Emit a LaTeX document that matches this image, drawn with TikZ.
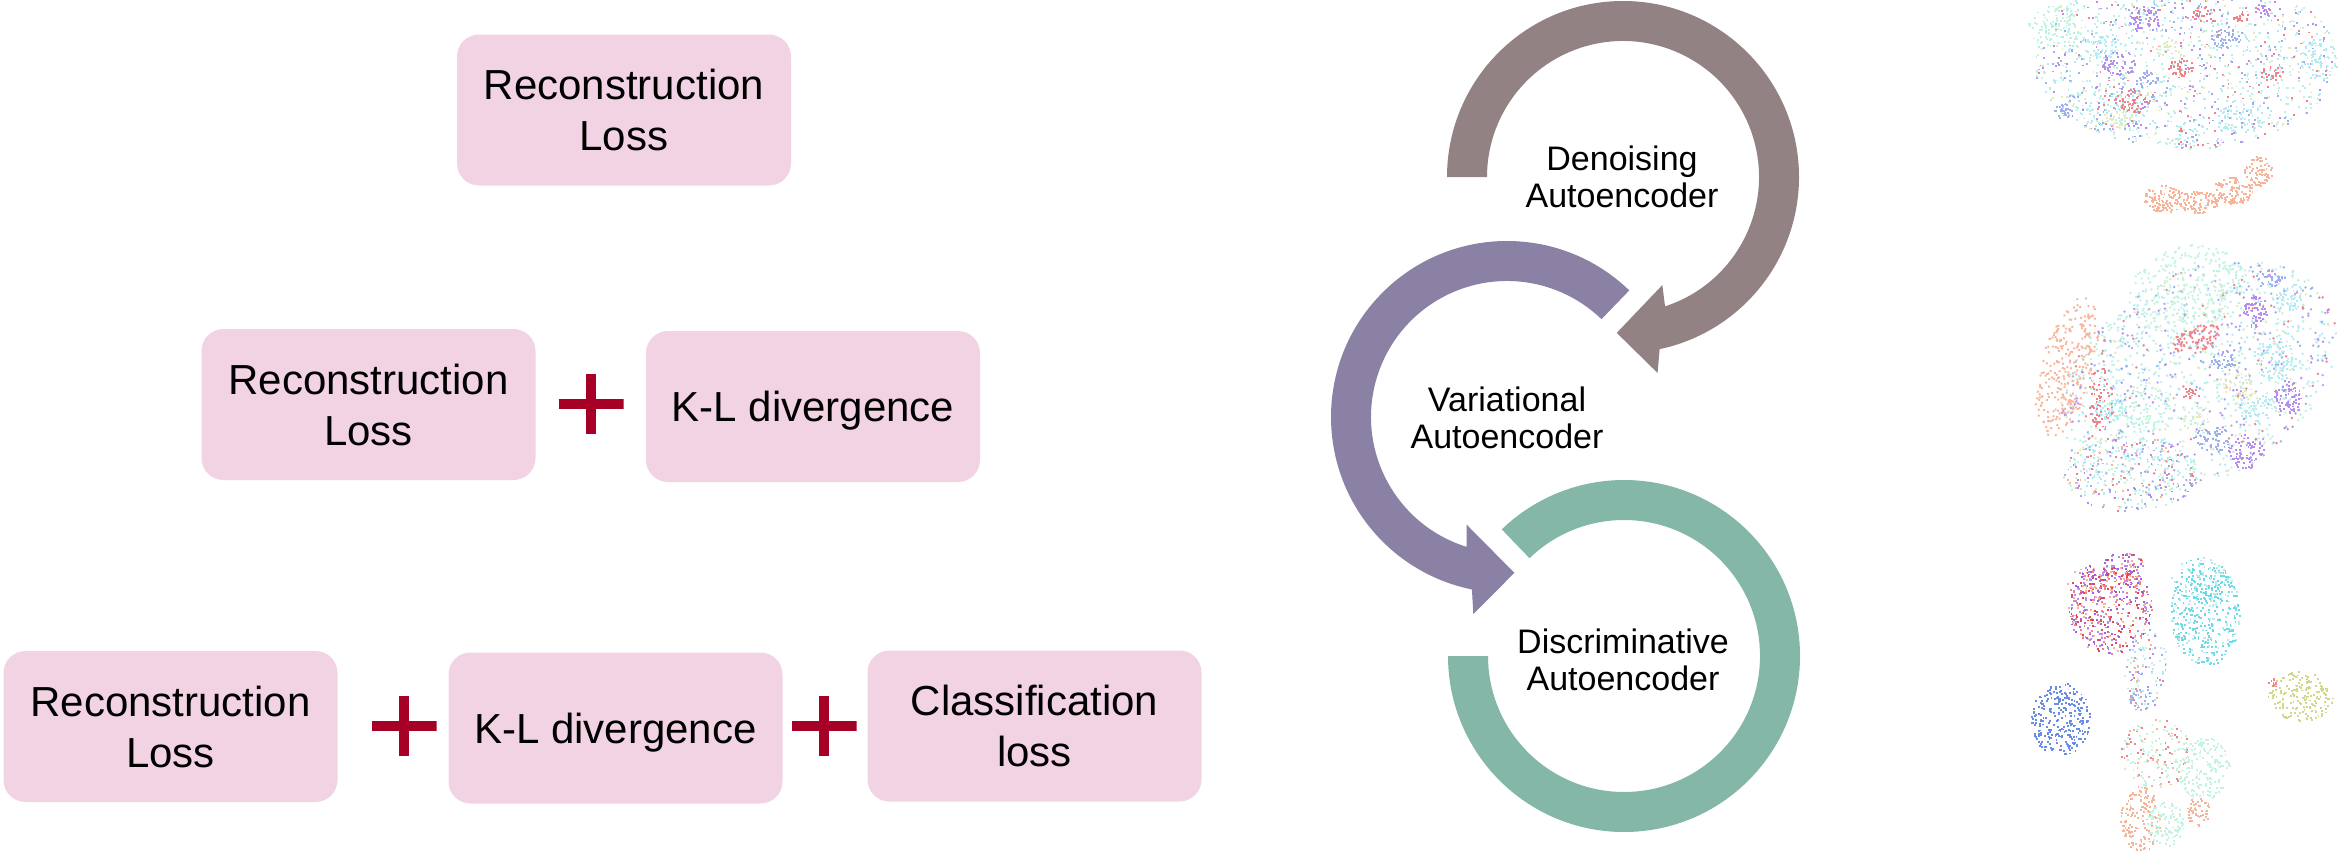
\documentclass[tikz,border=0pt]{standalone}
\usepackage{fontspec}
\setmainfont{Liberation Sans}
\usetikzlibrary{calc}

% panel colours
\definecolor{boxpink}{RGB}{242,211,228}
\definecolor{plusred}{RGB}{166,0,38}
\definecolor{ringgrey}{RGB}{147,130,131}
\definecolor{ringpurple}{RGB}{138,129,165}
\definecolor{ringgreen}{RGB}{132,183,167}

% embedding point colours
\definecolor{dcyan}{RGB}{178,236,242}
\definecolor{dcyanb}{RGB}{110,218,228}
\definecolor{dmint}{RGB}{195,244,226}
\definecolor{dpurple}{RGB}{182,140,240}
\definecolor{dred}{RGB}{240,130,138}
\definecolor{dblue}{RGB}{160,175,238}
\definecolor{dblueb}{RGB}{105,140,228}
\definecolor{dorange}{RGB}{246,180,152}
\definecolor{dyellow}{RGB}{230,234,190}
\definecolor{dyellowb}{RGB}{210,215,140}
\definecolor{dredb}{RGB}{228,70,85}
\definecolor{dpurpleb}{RGB}{160,95,232}

\pgfmathdeclarerandomlist{Lmix}{{dcyan}{dmint}{dpurple}{dred}{dblue}{dyellow}{dcyan}{dmint}{dcyan}{dblue}{dmint}{dcyan}}
\pgfmathdeclarerandomlist{Lmixb}{{dcyan}{dmint}{dred}{dblue}{dorange}{dcyan}{dmint}{dpurple}}
\pgfmathdeclarerandomlist{Lcyan}{{dcyan}}
\pgfmathdeclarerandomlist{Lcyanb}{{dcyanb}{dcyanb}{dcyan}}
\pgfmathdeclarerandomlist{Lmint}{{dmint}}
\pgfmathdeclarerandomlist{Lpurple}{{dpurple}}
\pgfmathdeclarerandomlist{Lred}{{dred}}
\pgfmathdeclarerandomlist{Lblue}{{dblue}}
\pgfmathdeclarerandomlist{Lblueb}{{dblueb}}
\pgfmathdeclarerandomlist{Lorange}{{dorange}}
\pgfmathdeclarerandomlist{Lyellow}{{dyellow}}
\pgfmathdeclarerandomlist{Lyellowb}{{dyellowb}}
\pgfmathdeclarerandomlist{Lredpurple}{{dredb}{dpurpleb}{dred}{dpurple}{dorange}}
\pgfmathdeclarerandomlist{Lredmint}{{dred}{dmint}{dorange}{dmint}}

% a cloud of points: centre x, centre y (downwards), radius x, radius y, rotation, count, colour list
\newcommand\blob[7]{%
  \begin{scope}[shift={(#1,-#2)}, rotate=#5]
    \foreach \k in {1,...,#6}{%
      \pgfmathsetmacro\rr{sqrt(rnd)}%
      \pgfmathsetmacro\aa{360*rnd}%
      \pgfmathrandomitem\cc{#7}%
      \fill[\cc] ({#3*\rr*cos(\aa)},{#4*\rr*sin(\aa)}) rectangle ++(1.9,1.9);
    }
  \end{scope}}

\tikzset{
  lossbox/.style={fill=boxpink, rounded corners=22pt, minimum width=334pt,
    minimum height=151pt, inner sep=0pt, align=center,
    font=\fontsize{42}{51}\selectfont},
  oneline/.style={text depth=0pt},
  ringtext/.style={align=center, font=\fontsize{34}{37}\selectfont},
  plussign/.style={minimum width=65pt, minimum height=60pt, inner sep=0pt,
    path picture={\draw[plusred, line width=9.5pt]
      (path picture bounding box.west) -- (path picture bounding box.east)
      (path picture bounding box.north) -- (path picture bounding box.south);}},
}

\begin{document}
\begin{tikzpicture}[x=1pt,y=1pt]
\useasboundingbox (0,0) rectangle (2346,-857);
\fill[white] (0,0) rectangle (2346,-857);
\clip (0,0) rectangle (2346,-857);

% ---------------- loss terms ----------------
\node[lossbox] (r1) at (624,-110) {Reconstruction\\Loss};

\node[lossbox] (r2a) at (368.5,-404.5) {Reconstruction\\Loss};
\node[plussign] (p1) at (591,-404) {};
\node[lossbox, oneline] (r2b) at (813,-406.5) {K-L divergence};

\node[lossbox] (r3a) at (170.5,-726.5) {Reconstruction\\Loss};
\node[plussign] (p2) at (404,-726) {};
\node[lossbox, oneline] (r3b) at (615.5,-728) {K-L divergence};
\node[plussign] (p3) at (824,-726) {};
\node[lossbox] (r3c) at (1034.5,-726) {Classification\\loss};

% ---------------- circular arrows ----------------
\coordinate (c1) at (1623,-177);
\coordinate (c2) at (1507,-417);
\coordinate (c3) at (1624,-656);

\fill[ringgrey] ($(c1)+(180:176)$) arc[start angle=180, end angle=-78, radius=176]
  -- ($(c1)+(-80:199)$) -- ($(c1)+(-92.3:156)$) -- ($(c1)+(-70:115)$)
  -- ($(c1)+(-72:136)$) arc[start angle=-72, end angle=180, radius=136] -- cycle;

\fill[ringpurple] ($(c2)+(46:176)$) arc[start angle=46, end angle=258.5, radius=176]
  -- ($(c2)+(260.3:200)$) -- ($(c2)+(272.7:156)$) -- ($(c2)+(249.5:115)$)
  -- ($(c2)+(252.7:136)$) arc[start angle=252.7, end angle=46, radius=136] -- cycle;

\fill[ringgreen] ($(c3)+(180:176)$) arc[start angle=180, end angle=494, radius=176]
  -- ($(c3)+(134:136)$) arc[start angle=494, end angle=180, radius=136] -- cycle;

\node[ringtext] (dae) at (1622,-177) {Denoising\\Autoencoder};
\node[ringtext] (vae) at (1507,-418) {Variational\\Autoencoder};
\node[ringtext] (disc) at (1623,-660) {Discriminative\\Autoencoder};

% ---------------- embeddings ----------------
\pgfmathsetseed{271}
% top embedding
\blob{2185}{62}{152}{88}{0}{1300}{Lmix}
\blob{2110}{110}{50}{25}{0}{150}{Lmix}
\blob{2055}{28}{28}{22}{0}{100}{Lmint}
\blob{2145}{20}{16}{14}{0}{60}{Lpurple}
\blob{2118}{65}{18}{12}{0}{50}{Lpurple}
\blob{2262}{12}{8}{6}{0}{18}{Lpurple}
\blob{2180}{68}{12}{10}{0}{45}{Lred}
\blob{2130}{103}{18}{12}{0}{55}{Lred}
\blob{2203}{15}{12}{8}{0}{30}{Lred}
\blob{2240}{18}{8}{6}{0}{18}{Lred}
\blob{2272}{75}{12}{8}{0}{25}{Lred}
\blob{2225}{40}{15}{10}{0}{45}{Lblue}
\blob{2062}{112}{10}{8}{0}{30}{Lblue}
\blob{2145}{80}{12}{8}{0}{25}{Lblue}
\blob{2100}{45}{20}{15}{0}{60}{Lcyan}
\blob{2240}{120}{25}{15}{0}{60}{Lcyan}
\blob{2315}{60}{15}{20}{0}{50}{Lcyan}
\blob{2115}{120}{15}{10}{0}{30}{Lyellow}
\blob{2170}{50}{15}{10}{0}{25}{Lyellow}
\blob{2185}{140}{15}{12}{0}{35}{Lmix}
\blob{2163}{200}{20}{14}{0}{105}{Lorange}
\blob{2198}{203}{20}{11}{0}{95}{Lorange}
\blob{2232}{192}{20}{14}{0}{105}{Lorange}
\blob{2258}{172}{14}{16}{0}{70}{Lorange}

% middle embedding
\blob{2198}{378}{150}{102}{32}{1300}{Lmix}
\blob{2185}{290}{60}{42}{20}{280}{Lmint}
\blob{2145}{410}{30}{25}{0}{100}{Lmint}
\blob{2066}{368}{26}{72}{-15}{280}{Lorange}
\blob{2255}{313}{12}{16}{0}{65}{Lpurple}
\blob{2287}{398}{15}{16}{0}{65}{Lpurple}
\blob{2245}{452}{18}{18}{0}{80}{Lpurple}
\blob{2195}{340}{25}{14}{25}{85}{Lred}
\blob{2100}{400}{12}{32}{0}{75}{Lred}
\blob{2190}{395}{8}{8}{0}{18}{Lred}
\blob{2225}{362}{14}{10}{0}{45}{Lblue}
\blob{2212}{440}{20}{12}{0}{55}{Lblue}
\blob{2270}{280}{15}{10}{0}{40}{Lblue}
\blob{2275}{360}{22}{22}{0}{85}{Lcyan}
\blob{2255}{408}{20}{14}{0}{55}{Lcyan}
\blob{2108}{410}{14}{14}{0}{45}{Lcyan}
\blob{2290}{300}{15}{15}{0}{45}{Lcyan}
\blob{2240}{385}{18}{15}{0}{40}{Lyellow}
\blob{2195}{420}{15}{12}{0}{25}{Lyellow}
\blob{2130}{475}{68}{38}{0}{340}{Lmixb}

% bottom embedding
\blob{2110}{610}{42}{45}{0}{400}{Lredpurple}
\blob{2123}{568}{22}{14}{0}{75}{Lredpurple}
\blob{2090}{585}{25}{20}{0}{85}{Lredpurple}
\blob{2205}{615}{35}{52}{0}{400}{Lcyanb}
\blob{2200}{580}{30}{22}{0}{85}{Lcyanb}
\blob{2145}{670}{22}{40}{0}{110}{Lmixb}
\blob{2140}{700}{12}{12}{0}{35}{Lblue}
\blob{2060}{720}{30}{37}{0}{280}{Lblueb}
\blob{2300}{698}{33}{25}{0}{180}{Lyellowb}
\blob{2272}{685}{6}{6}{0}{10}{Lred}
\blob{2155}{755}{35}{35}{0}{170}{Lredmint}
\blob{2203}{770}{27}{32}{0}{180}{Lmint}
\blob{2140}{820}{20}{33}{0}{150}{Lorange}
\blob{2198}{812}{12}{15}{0}{50}{Lorange}
\blob{2165}{825}{18}{23}{0}{110}{Lmint}
\end{tikzpicture}
\end{document}
